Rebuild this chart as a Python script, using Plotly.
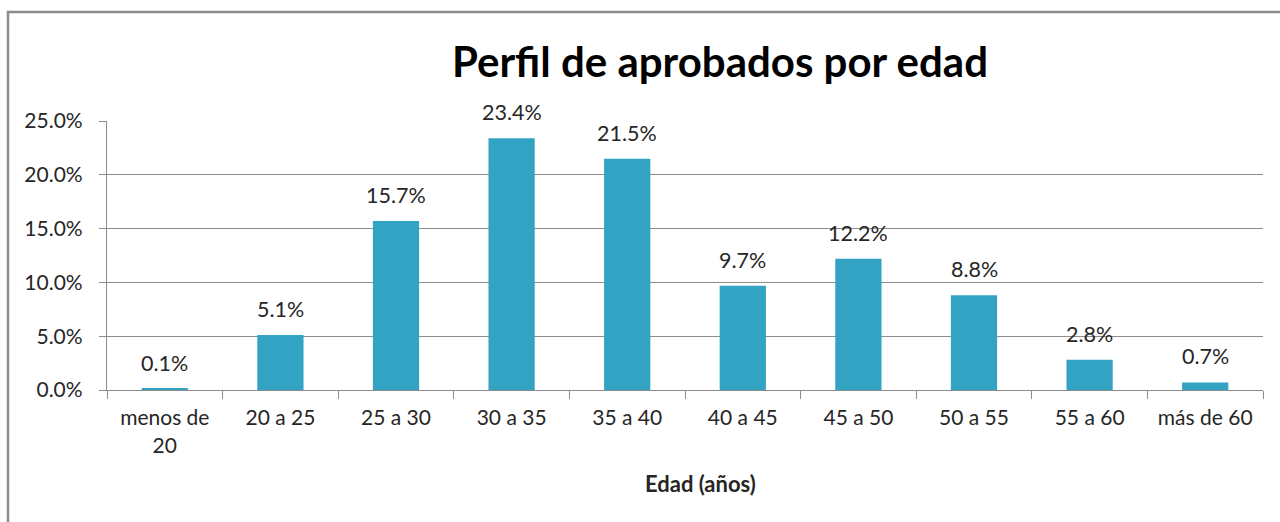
import plotly.graph_objects as go

categories = ["menos de<br>20", "20 a 25", "25 a 30", "30 a 35", "35 a 40",
              "40 a 45", "45 a 50", "50 a 55", "55 a 60", "más de 60"]
values = [0.1, 5.1, 15.7, 23.4, 21.5, 9.7, 12.2, 8.8, 2.8, 0.7]
y_ticks = [0, 5, 10, 15, 20, 25]
y_tick_labels = ["0.0%", "5.0%", "10.0%", "15.0%", "20.0%", "25.0%"]

FONT = "Lato, 'Open Sans', sans-serif"
TXT = "#262626"
AX = "#8c8c8c"

fig = go.Figure()
fig.add_trace(go.Bar(
    x=categories, y=values,
    marker=dict(color="#32a3c2", line=dict(width=0)),
    width=0.4,
    hoverinfo="x+y",
))

for c, v in zip(categories, values):
    fig.add_annotation(x=c, y=v, text=f"{v:.1f}%", showarrow=False,
                       yanchor="bottom", yshift=11,
                       font=dict(family=FONT, size=21.5, color=TXT))

fig.add_annotation(xref="paper", yref="paper", x=0.513, y=-0.346,
                   text="<b>Edad (años)</b>", showarrow=False,
                   xanchor="center", yanchor="middle",
                   font=dict(family=FONT, size=22, color=TXT))

# chart border
fig.add_shape(type="rect", xref="paper", yref="paper",
              x0=(8 - 107) / 1156, x1=1.05, y0=-0.6, y1=(390 - 12) / 269,
              line=dict(color=AX, width=2.5), layer="below")

fig.update_layout(
    width=1280, height=522,
    margin=dict(l=107, r=17, t=121, b=132),
    paper_bgcolor="white", plot_bgcolor="white",
    showlegend=False,
    title=dict(text="<b>Perfil de aprobados por edad</b>",
               x=720 / 1280, xanchor="center", xref="container",
               y=1 - 62 / 522, yanchor="middle", yref="container",
               font=dict(family=FONT, size=42, color="black")),
    font=dict(family=FONT, color=TXT),
    xaxis=dict(
        type="category", showline=True, linecolor=AX, linewidth=1.3,
        ticks="outside", tickson="boundaries", ticklen=8, tickcolor=AX,
        ticklabelstandoff=9,
        tickfont=dict(family=FONT, size=21, color=TXT),
        showgrid=False,
    ),
    yaxis=dict(
        range=[0, 25], tickvals=y_ticks, ticktext=y_tick_labels,
        showline=True, linecolor=AX, linewidth=1.3,
        ticks="outside", ticklen=7, tickcolor=AX,
        ticklabelstandoff=12,
        showgrid=True, gridcolor=AX, gridwidth=1.2,
        zeroline=False,
        tickfont=dict(family=FONT, size=21, color=TXT),
    ),
    bargap=0.6,
)

fig.write_html("out.html",
               config={"displayModeBar": False},
               post_script="document.body.style.margin='0';document.body.style.overflow='hidden';")
